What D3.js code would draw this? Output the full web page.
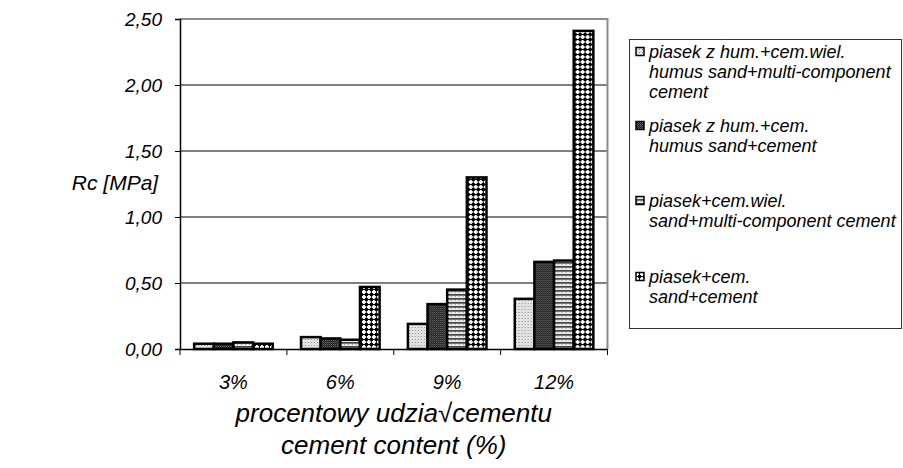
<!DOCTYPE html>
<html>
<head>
<meta charset="utf-8">
<script src="https://cdn.jsdelivr.net/npm/d3@7"></script>
<style>
  body { margin: 0; background: #fff; }
  text { font-family: "Liberation Sans", Arial, sans-serif; font-style: italic; fill: #000; }
</style>
</head>
<body>
<svg id="chart" width="903" height="468"></svg>
<script>
// Data
const categories = ["3%", "6%", "9%", "12%"];
const humusMulti = [0.04, 0.09, 0.19, 0.38];
const humusCement = [0.04, 0.08, 0.34, 0.66];
const sandMulti = [0.05, 0.07, 0.45, 0.67];
const sandCement = [0.04, 0.47, 1.30, 2.41];
const yTicks = [0, 0.5, 1.0, 1.5, 2.0, 2.5];
const legendLines = [
  ["piasek z hum.+cem.wiel.", "humus sand+multi-component", "cement"],
  ["piasek z hum.+cem.", "humus sand+cement"],
  ["piasek+cem.wiel.", "sand+multi-component cement"],
  ["piasek+cem.", "sand+cement"]
];
const seriesValues = [humusMulti, humusCement, sandMulti, sandCement];
const patternIds = ["pDots", "pDark", "pStripes", "pCross"];

const svg = d3.select("#chart");
const plot = { left: 180, right: 607.5, top: 19, bottom: 349 };

// Fill patterns
const defs = svg.append("defs");
const dots = defs.append("pattern").attr("id", "pDots")
  .attr("patternUnits", "userSpaceOnUse").attr("width", 3).attr("height", 3);
dots.append("rect").attr("width", 3).attr("height", 3).attr("fill", "#eee");
dots.append("rect").attr("width", 1).attr("height", 1).attr("fill", "#777");
dots.append("rect").attr("x", 1.5).attr("y", 1.5).attr("width", 1).attr("height", 1).attr("fill", "#aaa");

const dark = defs.append("pattern").attr("id", "pDark")
  .attr("patternUnits", "userSpaceOnUse").attr("width", 2).attr("height", 2);
dark.append("rect").attr("width", 2).attr("height", 2).attr("fill", "#111");
dark.append("rect").attr("width", 1).attr("height", 1).attr("fill", "#808080");
dark.append("rect").attr("x", 1).attr("y", 1).attr("width", 1).attr("height", 1).attr("fill", "#4a4a4a");

const stripes = defs.append("pattern").attr("id", "pStripes")
  .attr("patternUnits", "userSpaceOnUse").attr("width", 4).attr("height", 4);
stripes.append("rect").attr("width", 4).attr("height", 4).attr("fill", "#eee");
stripes.append("rect").attr("y", 2).attr("width", 4).attr("height", 1.7).attr("fill", "#444");
stripes.append("rect").attr("x", 1).attr("y", 0).attr("width", 1).attr("height", 1).attr("fill", "#999");

const cross = defs.append("pattern").attr("id", "pCross")
  .attr("patternUnits", "userSpaceOnUse").attr("width", 5).attr("height", 5);
cross.append("rect").attr("width", 5).attr("height", 5).attr("fill", "#000");
cross.append("rect").attr("x", 0).attr("y", 1).attr("width", 4).attr("height", 2).attr("fill", "#fff");
cross.append("rect").attr("x", 1).attr("y", 0).attr("width", 2).attr("height", 4).attr("fill", "#fff");

// Scales
const x = d3.scaleBand().domain(categories).range([plot.left, plot.right]);
const xInner = d3.scaleBand().domain(d3.range(seriesValues.length))
  .range([0, x.bandwidth()]).paddingInner(0).paddingOuter(0.72);
const y = d3.scaleLinear().domain([0, 2.5]).range([plot.bottom, plot.top]);
const fmt = (d) => d3.format(".2f")(d).replace(".", ",");

// Grid lines
svg.append("g")
  .selectAll("line")
  .data(yTicks.filter((d) => d > 0 && d < 2.5))
  .enter()
  .append("line")
  .attr("x1", plot.left).attr("x2", plot.right)
  .attr("y1", (d) => y(d)).attr("y2", (d) => y(d))
  .attr("stroke", "#000").attr("stroke-width", 1);

// Plot border (top and right in grey)
svg.append("path")
  .attr("d", `M${plot.left},${y(2.5)}H${plot.right}V${plot.bottom}`)
  .attr("fill", "none").attr("stroke", "#8c8c8c").attr("stroke-width", 2);

// Bars
const groups = svg.append("g")
  .selectAll("g")
  .data(categories)
  .enter()
  .append("g")
  .attr("transform", (d) => `translate(${x(d)},0)`);

groups.selectAll("rect")
  .data((c, i) => seriesValues.map((s, k) => ({ k: k, value: s[i] })))
  .enter()
  .append("rect")
  .attr("x", (d) => xInner(d.k))
  .attr("y", (d) => y(d.value))
  .attr("width", xInner.bandwidth())
  .attr("height", (d) => y(0) - y(d.value))
  .attr("fill", (d) => `url(#${patternIds[d.k]})`)
  .attr("stroke", "#000")
  .attr("stroke-width", 2.5);

// Y axis
const yAxis = svg.append("g")
  .attr("transform", `translate(${plot.left},0)`)
  .call(d3.axisLeft(y).tickValues(yTicks).tickFormat(fmt).tickSize(5).tickPadding(13));
yAxis.select(".domain").attr("stroke", "#000").attr("stroke-width", 1.5);
yAxis.selectAll("text").style("font-size", "19px");
yAxis.attr("font-family", null);

// X axis
const xAxis = svg.append("g")
  .attr("transform", `translate(0,${plot.bottom})`)
  .call(d3.axisBottom(x).tickSize(0).tickPadding(26));
xAxis.select(".domain").attr("stroke", "#000").attr("stroke-width", 1.5);
xAxis.selectAll("text").style("font-size", "20px");
xAxis.attr("font-family", null);
xAxis.selectAll(".sep")
  .data(categories.map((c) => x(c)).concat([plot.right]))
  .enter()
  .append("line")
  .attr("x1", (d) => d).attr("x2", (d) => d)
  .attr("y1", 0).attr("y2", 6)
  .attr("stroke", "#000");

// Axis titles
svg.append("text")
  .attr("x", 115).attr("y", 190)
  .attr("text-anchor", "middle")
  .style("font-size", "21px")
  .text("Rc [MPa]");

const titleX = (plot.left + plot.right) / 2;
svg.append("text")
  .attr("x", titleX).attr("y", 422)
  .attr("text-anchor", "middle")
  .style("font-size", "26px")
  .text("procentowy udzia\u221Acementu");
svg.append("text")
  .attr("x", titleX).attr("y", 454)
  .attr("text-anchor", "middle")
  .style("font-size", "26px")
  .text("cement content (%)");

// Legend
const legend = svg.append("g");
legend.append("rect")
  .attr("x", 629.5).attr("y", 39.5)
  .attr("width", 272).attr("height", 289)
  .attr("fill", "#fff").attr("stroke", "#333").attr("stroke-width", 1);

const entryY = [52, 126, 201, 277];
const entries = legend.selectAll(".entry")
  .data(legendLines)
  .enter()
  .append("g")
  .attr("class", "entry")
  .attr("transform", (d, i) => `translate(0,${entryY[i]})`);

entries.append("rect")
  .attr("x", 636).attr("y", -4.5)
  .attr("width", 8).attr("height", 8)
  .attr("fill", (d, i) => `url(#${patternIds[i]})`)
  .attr("stroke", "#000").attr("stroke-width", 1.5);

entries.selectAll("text")
  .data((d) => d)
  .enter()
  .append("text")
  .attr("x", 649)
  .attr("y", (d, j) => 6 + j * 20)
  .style("font-size", "18px")
  .text((d) => d);
</script>
</body>
</html>
